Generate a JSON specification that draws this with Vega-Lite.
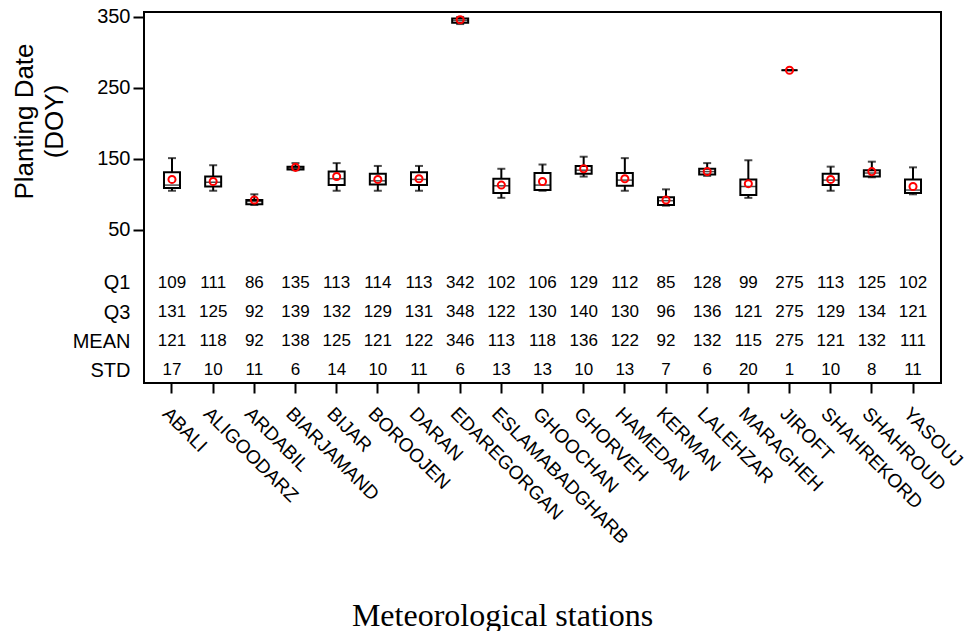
{
  "$schema": "https://vega.github.io/schema/vega-lite/v6.json",
  "width": 797,
  "height": 371,
  "autosize": {"type": "none"},
  "padding": {"left": 144, "top": 12, "right": 25, "bottom": 248},
  "background": "white",
  "config": {
    "view": {"stroke": "black", "strokeWidth": 2},
    "font": "Liberation Sans"
  },
  "data": {
    "values": [
      {"station": "ABALI", "wlo": 105, "q1": 109, "med": 113, "q3": 131, "whi": 151, "mean": 121, "std": 17},
      {"station": "ALIGOODARZ", "wlo": 105, "q1": 111, "med": 117, "q3": 125, "whi": 141, "mean": 118, "std": 10},
      {"station": "ARDABIL", "wlo": 85, "q1": 86, "med": 90, "q3": 92, "whi": 100, "mean": 92, "std": 11},
      {"station": "BIARJAMAND", "wlo": 134, "q1": 135, "med": 137, "q3": 139, "whi": 144, "mean": 138, "std": 6},
      {"station": "BIJAR", "wlo": 105, "q1": 113, "med": 122, "q3": 132, "whi": 144, "mean": 125, "std": 14},
      {"station": "BOROOJEN", "wlo": 105, "q1": 114, "med": 119, "q3": 129, "whi": 140, "mean": 121, "std": 10},
      {"station": "DARAN", "wlo": 105, "q1": 113, "med": 121, "q3": 131, "whi": 140, "mean": 122, "std": 11},
      {"station": "EDAREGORGAN", "wlo": 340, "q1": 342, "med": 345, "q3": 348, "whi": 350, "mean": 346, "std": 6},
      {"station": "ESLAMABADGHARB", "wlo": 95, "q1": 102, "med": 112, "q3": 122, "whi": 136, "mean": 113, "std": 13},
      {"station": "GHOOCHAN", "wlo": 105, "q1": 106, "med": 113, "q3": 130, "whi": 142, "mean": 118, "std": 13},
      {"station": "GHORVEH", "wlo": 125, "q1": 129, "med": 134, "q3": 140, "whi": 153, "mean": 136, "std": 10},
      {"station": "HAMEDAN", "wlo": 105, "q1": 112, "med": 120, "q3": 130, "whi": 151, "mean": 122, "std": 13},
      {"station": "KERMAN", "wlo": 84, "q1": 85, "med": 91, "q3": 96, "whi": 107, "mean": 92, "std": 7},
      {"station": "LALEHZAR", "wlo": 126, "q1": 128, "med": 132, "q3": 136, "whi": 144, "mean": 132, "std": 6},
      {"station": "MARAGHEH", "wlo": 95, "q1": 99, "med": 111, "q3": 121, "whi": 148, "mean": 115, "std": 20},
      {"station": "JIROFT", "wlo": 275, "q1": 275, "med": 275, "q3": 275, "whi": 275, "mean": 275, "std": 1},
      {"station": "SHAHREKORD", "wlo": 105, "q1": 113, "med": 120, "q3": 129, "whi": 139, "mean": 121, "std": 10},
      {"station": "SHAHROUD", "wlo": 124, "q1": 125, "med": 130, "q3": 134, "whi": 146, "mean": 132, "std": 8},
      {"station": "YASOUJ", "wlo": 100, "q1": 102, "med": 106, "q3": 121, "whi": 138, "mean": 111, "std": 11}
    ]
  },
  "encoding": {
    "x": {
      "field": "station",
      "type": "nominal",
      "sort": null,
      "scale": {"paddingInner": 0, "paddingOuter": 0.18},
      "axis": {
        "title": "Meteorological stations",
        "titleFont": "Liberation Serif",
        "titleFontSize": 32,
        "titleFontWeight": "normal",
        "titleColor": "black",
        "titleX": 358,
        "titleY": 242,
        "titleAnchor": null,
        "titleAlign": "center",
        "titleBaseline": "alphabetic",
        "labelAngle": 45,
        "labelAlign": "left",
        "labelBaseline": "top",
        "labelFont": "Liberation Sans",
        "labelFontSize": 19,
        "labelColor": "black",
        "labelPadding": 11,
        "labelOverlap": false,
        "labelLimit": 400,
        "tickSize": 10,
        "tickWidth": 2,
        "tickColor": "black",
        "domain": false
      }
    }
  },
  "layer": [
    {
      "mark": {"type": "rule", "color": "black", "strokeWidth": 2},
      "encoding": {
        "y": {
          "field": "wlo",
          "type": "quantitative",
          "scale": {"domain": [-166, 357], "nice": false, "zero": false},
          "axis": {
            "values": [50, 150, 250, 350, -25, -66, -107, -148],
            "labelExpr": "datum.value == -25 ? 'Q1' : datum.value == -66 ? 'Q3' : datum.value == -107 ? 'MEAN' : datum.value == -148 ? 'STD' : datum.label",
            "title": ["Planting Date", "(DOY)"],
            "titleFont": "Liberation Sans",
            "titleFontSize": 26,
            "titleFontWeight": "normal",
            "titleColor": "black",
            "titleAngle": -90,
            "titleAlign": "center",
            "titleBaseline": "middle",
            "titleLineHeight": 30,
            "titleX": -120,
            "titleY": 109,
            "titleAnchor": null,
            "labelFont": "Liberation Sans",
            "labelFontSize": 20,
            "labelColor": "black",
            "labelPadding": 3,
            "tickSize": 11,
            "tickWidth": 2,
            "tickColor": "black",
            "tickOpacity": {"condition": {"test": "datum.value < 0", "value": 0}, "value": 1},
            "domain": false,
            "grid": false
          }
        },
        "y2": {"field": "whi"}
      }
    },
    {
      "mark": {"type": "tick", "color": "black", "size": 8, "thickness": 2},
      "encoding": {"y": {"field": "wlo", "type": "quantitative"}}
    },
    {
      "mark": {"type": "tick", "color": "black", "size": 8, "thickness": 2},
      "encoding": {"y": {"field": "whi", "type": "quantitative"}}
    },
    {
      "mark": {"type": "bar", "fill": "white", "stroke": "black", "strokeWidth": 2, "size": 16},
      "encoding": {
        "y": {"field": "q1", "type": "quantitative"},
        "y2": {"field": "q3"}
      }
    },
    {
      "mark": {"type": "tick", "color": "black", "size": 16, "thickness": 1.5},
      "encoding": {"y": {"field": "med", "type": "quantitative"}}
    },
    {
      "mark": {"type": "point", "shape": "circle", "filled": false, "color": "#ff0000", "strokeWidth": 2, "size": 50, "opacity": 1},
      "encoding": {"y": {"field": "mean", "type": "quantitative"}}
    },
    {
      "mark": {"type": "text", "font": "Liberation Sans", "fontSize": 17, "color": "black", "align": "center", "baseline": "middle"},
      "encoding": {"y": {"datum": -25, "type": "quantitative"}, "text": {"field": "q1"}}
    },
    {
      "mark": {"type": "text", "font": "Liberation Sans", "fontSize": 17, "color": "black", "align": "center", "baseline": "middle"},
      "encoding": {"y": {"datum": -66, "type": "quantitative"}, "text": {"field": "q3"}}
    },
    {
      "mark": {"type": "text", "font": "Liberation Sans", "fontSize": 17, "color": "black", "align": "center", "baseline": "middle"},
      "encoding": {"y": {"datum": -107, "type": "quantitative"}, "text": {"field": "mean"}}
    },
    {
      "mark": {"type": "text", "font": "Liberation Sans", "fontSize": 17, "color": "black", "align": "center", "baseline": "middle"},
      "encoding": {"y": {"datum": -148, "type": "quantitative"}, "text": {"field": "std"}}
    }
  ]
}
